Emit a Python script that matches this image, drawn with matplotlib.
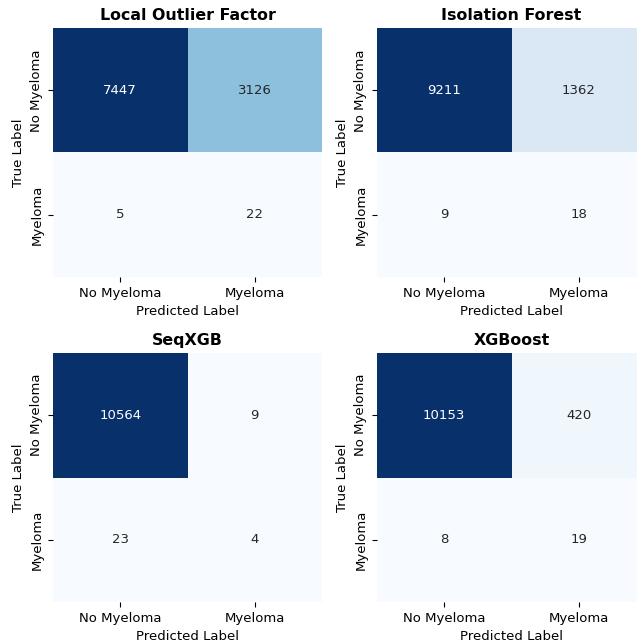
import matplotlib
matplotlib.use("Agg")
import matplotlib.pyplot as plt
import numpy as np
import seaborn as sns

labels = ["No Myeloma", "Myeloma"]
model_names = ["Local Outlier Factor", "Isolation Forest", "SeqXGB", "XGBoost"]
cm_lof = [[7447, 3126], [5, 22]]
cm_iforest = [[9211, 1362], [9, 18]]
cm_seqxgb = [[10564, 9], [23, 4]]
cm_xgb = [[10153, 420], [8, 19]]

matrices = [cm_lof, cm_iforest, cm_seqxgb, cm_xgb]

plt.rcParams['font.size'] = 9.5

fig = plt.figure(figsize=(6.37, 6.41), dpi=100)

# the reference is a crop of a larger figure, right and bottom panels run off the edge
W, H = 637, 641
boxes = [(53, 28), (377, 28), (53, 353), (377, 353)]
aw, ah = 269, 249

for (px, py), name, cm in zip(boxes, model_names, matrices):
    ax = fig.add_axes([px / W, 1 - (py + ah) / H, aw / W, ah / H])
    sns.heatmap(np.array(cm), annot=True, fmt="d", cmap="Blues", cbar=False,
                xticklabels=labels, yticklabels=labels, ax=ax,
                annot_kws={"fontsize": 9.5})
    ax.set_title(name, fontweight="bold", fontsize=11.4)
    ax.set_xlabel("Predicted Label")
    ax.set_ylabel("True Label")

plt.savefig("out.png", dpi=100)
